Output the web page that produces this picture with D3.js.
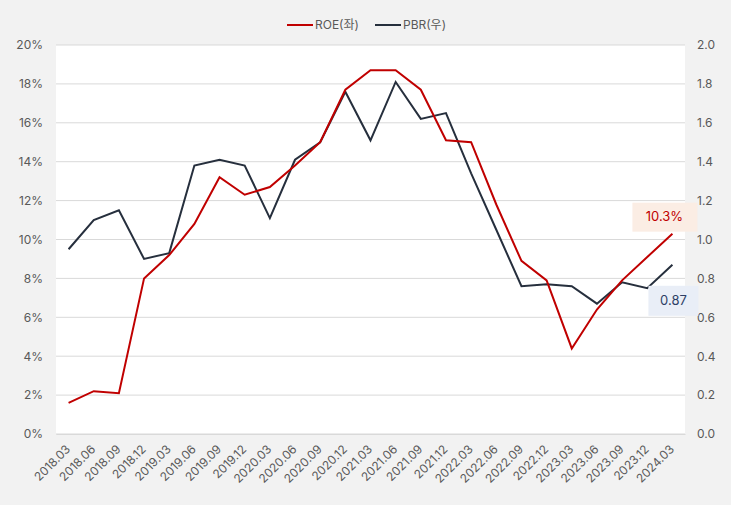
<!DOCTYPE html>
<html lang="ko">
<head>
<meta charset="UTF-8">
<title>ROE / PBR</title>
<style>
  body { margin: 0; background: #fff; }
  text { font-family: Inter, "Noto Sans CJK KR", sans-serif; }
</style>
</head>
<body>
<div id="chart-area"></div>
<script src="https://d3js.org/d3.v7.min.js"></script>
<script>
    const quarters = ['2018.03', '2018.06', '2018.09', '2018.12', '2019.03', '2019.06', '2019.09', '2019.12',
        '2020.03', '2020.06', '2020.09', '2020.12', '2021.03', '2021.06', '2021.09', '2021.12',
        '2022.03', '2022.06', '2022.09', '2022.12', '2023.03', '2023.06', '2023.09', '2023.12', '2024.03'];
    const roe = [1.6, 2.2, 2.1, 8.0, 9.2, 10.8, 13.2, 12.3, 12.7, 13.8, 15.0, 17.7, 18.7, 18.7, 17.7, 15.1,
        15.0, 11.8, 8.9, 7.9, 4.4, 6.4, 7.9, 9.1, 10.3];
    const pbr = [0.95, 1.10, 1.15, 0.90, 0.93, 1.38, 1.41, 1.38, 1.11, 1.41, 1.50, 1.76, 1.51, 1.81, 1.62, 1.65,
        1.34, 1.05, 0.76, 0.77, 0.76, 0.67, 0.78, 0.75, 0.87];
    const leftTicks = [0, 2, 4, 6, 8, 10, 12, 14, 16, 18, 20];
    const rightTicks = [0, 0.2, 0.4, 0.6, 0.8, 1.0, 1.2, 1.4, 1.6, 1.8, 2.0];

    const outerWidth = 738;
    const outerHeight = 509;
    const margin = {top: 45, right: 53, bottom: 75, left: 56};
    const width = outerWidth - margin.left - margin.right;
    const height = outerHeight - margin.top - margin.bottom;

    const roeColor = '#c00000';
    const pbrColor = '#262f3d';
    const textColor = '#595959';

    const svg = d3.select('#chart-area').append('svg')
        .attr('width', outerWidth)
        .attr('height', outerHeight);

    // grey frame
    svg.append('rect')
        .attr('width', 731).attr('height', 505)
        .attr('fill', '#f2f2f2');

    const g = svg.append('g')
        .attr('transform', `translate(${margin.left}, ${margin.top})`);

    g.append('rect')
        .attr('width', width).attr('height', height)
        .attr('fill', '#fff');

    const x = d3.scalePoint().domain(quarters).range([0, width]).padding(0.5);
    const yLeft = d3.scaleLinear().domain([0, 20]).range([height, 0]);
    const yRight = d3.scaleLinear().domain([0, 2]).range([height, 0]);

    // gridlines
    g.append('g')
        .selectAll('line')
        .data(leftTicks)
        .join('line')
        .attr('x1', 0).attr('x2', width)
        .attr('y1', d => yLeft(d)).attr('y2', d => yLeft(d))
        .attr('stroke', '#d9d9d9')
        .attr('stroke-width', 1);

    const yAxisL = d3.axisLeft(yLeft).tickValues(leftTicks).tickSize(0).tickPadding(13)
        .tickFormat(d => d + '%');
    const gyl = g.append('g').call(yAxisL);
    gyl.select('.domain').remove();

    const yAxisR = d3.axisRight(yRight).tickValues(rightTicks).tickSize(0).tickPadding(12)
        .tickFormat(d3.format('.1f'));
    const gyr = g.append('g').attr('transform', `translate(${width}, 0)`).call(yAxisR);
    gyr.select('.domain').remove();

    const xAxis = d3.axisBottom(x).tickSize(0).tickPadding(0);
    const gx = g.append('g').attr('transform', `translate(0, ${height})`).call(xAxis);
    gx.select('.domain').attr('stroke', '#d9d9d9');
    gx.selectAll('text')
        .attr('text-anchor', 'end')
        .attr('dy', 0)
        .attr('y', 0)
        .attr('transform', 'translate(2, 16) rotate(-45)');

    [gyl, gyr, gx].forEach(a => a.selectAll('text')
        .attr('fill', textColor)
        .style('font-size', '12px')
        .style('font-family', 'Inter, "Noto Sans CJK KR", sans-serif'));

    const roeLine = d3.line().x((d, i) => x(quarters[i])).y(d => yLeft(d));
    const pbrLine = d3.line().x((d, i) => x(quarters[i])).y(d => yRight(d));

    g.append('path').datum(pbr)
        .attr('d', pbrLine)
        .attr('fill', 'none')
        .attr('stroke', pbrColor)
        .attr('stroke-width', 2);

    g.append('path').datum(roe)
        .attr('d', roeLine)
        .attr('fill', 'none')
        .attr('stroke', roeColor)
        .attr('stroke-width', 2);

    // end labels
    const last = quarters.length - 1;
    const roeLab = g.append('g')
        .attr('transform', `translate(${x(quarters[last]) - 8}, ${yLeft(roe[last]) - 17})`);
    roeLab.append('rect')
        .attr('x', -32).attr('y', -14).attr('width', 65).attr('height', 29)
        .attr('fill', '#fbede4');
    roeLab.append('text')
        .attr('text-anchor', 'middle').attr('dy', '0.36em')
        .attr('fill', roeColor)
        .style('font-size', '13px')
        .text(roe[last].toFixed(1) + '%');

    const pbrLab = g.append('g')
        .attr('transform', `translate(${x(quarters[last]) + 1}, ${yRight(pbr[last]) + 36})`);
    pbrLab.append('rect')
        .attr('x', -25).attr('y', -15).attr('width', 50).attr('height', 30)
        .attr('fill', '#e9eef7');
    pbrLab.append('text')
        .attr('text-anchor', 'middle').attr('dy', '0.36em')
        .attr('fill', '#2e3f66')
        .style('font-size', '13px')
        .text(pbr[last].toFixed(2));

    // legend
    const legendItems = [
        {name: 'ROE(좌)', color: roeColor, x: 287},
        {name: 'PBR(우)', color: pbrColor, x: 375}
    ];
    const legend = svg.append('g').attr('transform', 'translate(0, 25)');
    const li = legend.selectAll('g').data(legendItems).join('g')
        .attr('transform', d => `translate(${d.x}, 0)`);
    li.append('line')
        .attr('x1', 0).attr('x2', 26)
        .attr('stroke', d => d.color)
        .attr('stroke-width', 2);
    li.append('text')
        .attr('x', 28).attr('dy', '0.36em')
        .attr('fill', textColor)
        .style('font-size', '12px')
        .text(d => d.name);
</script>
</body>
</html>
